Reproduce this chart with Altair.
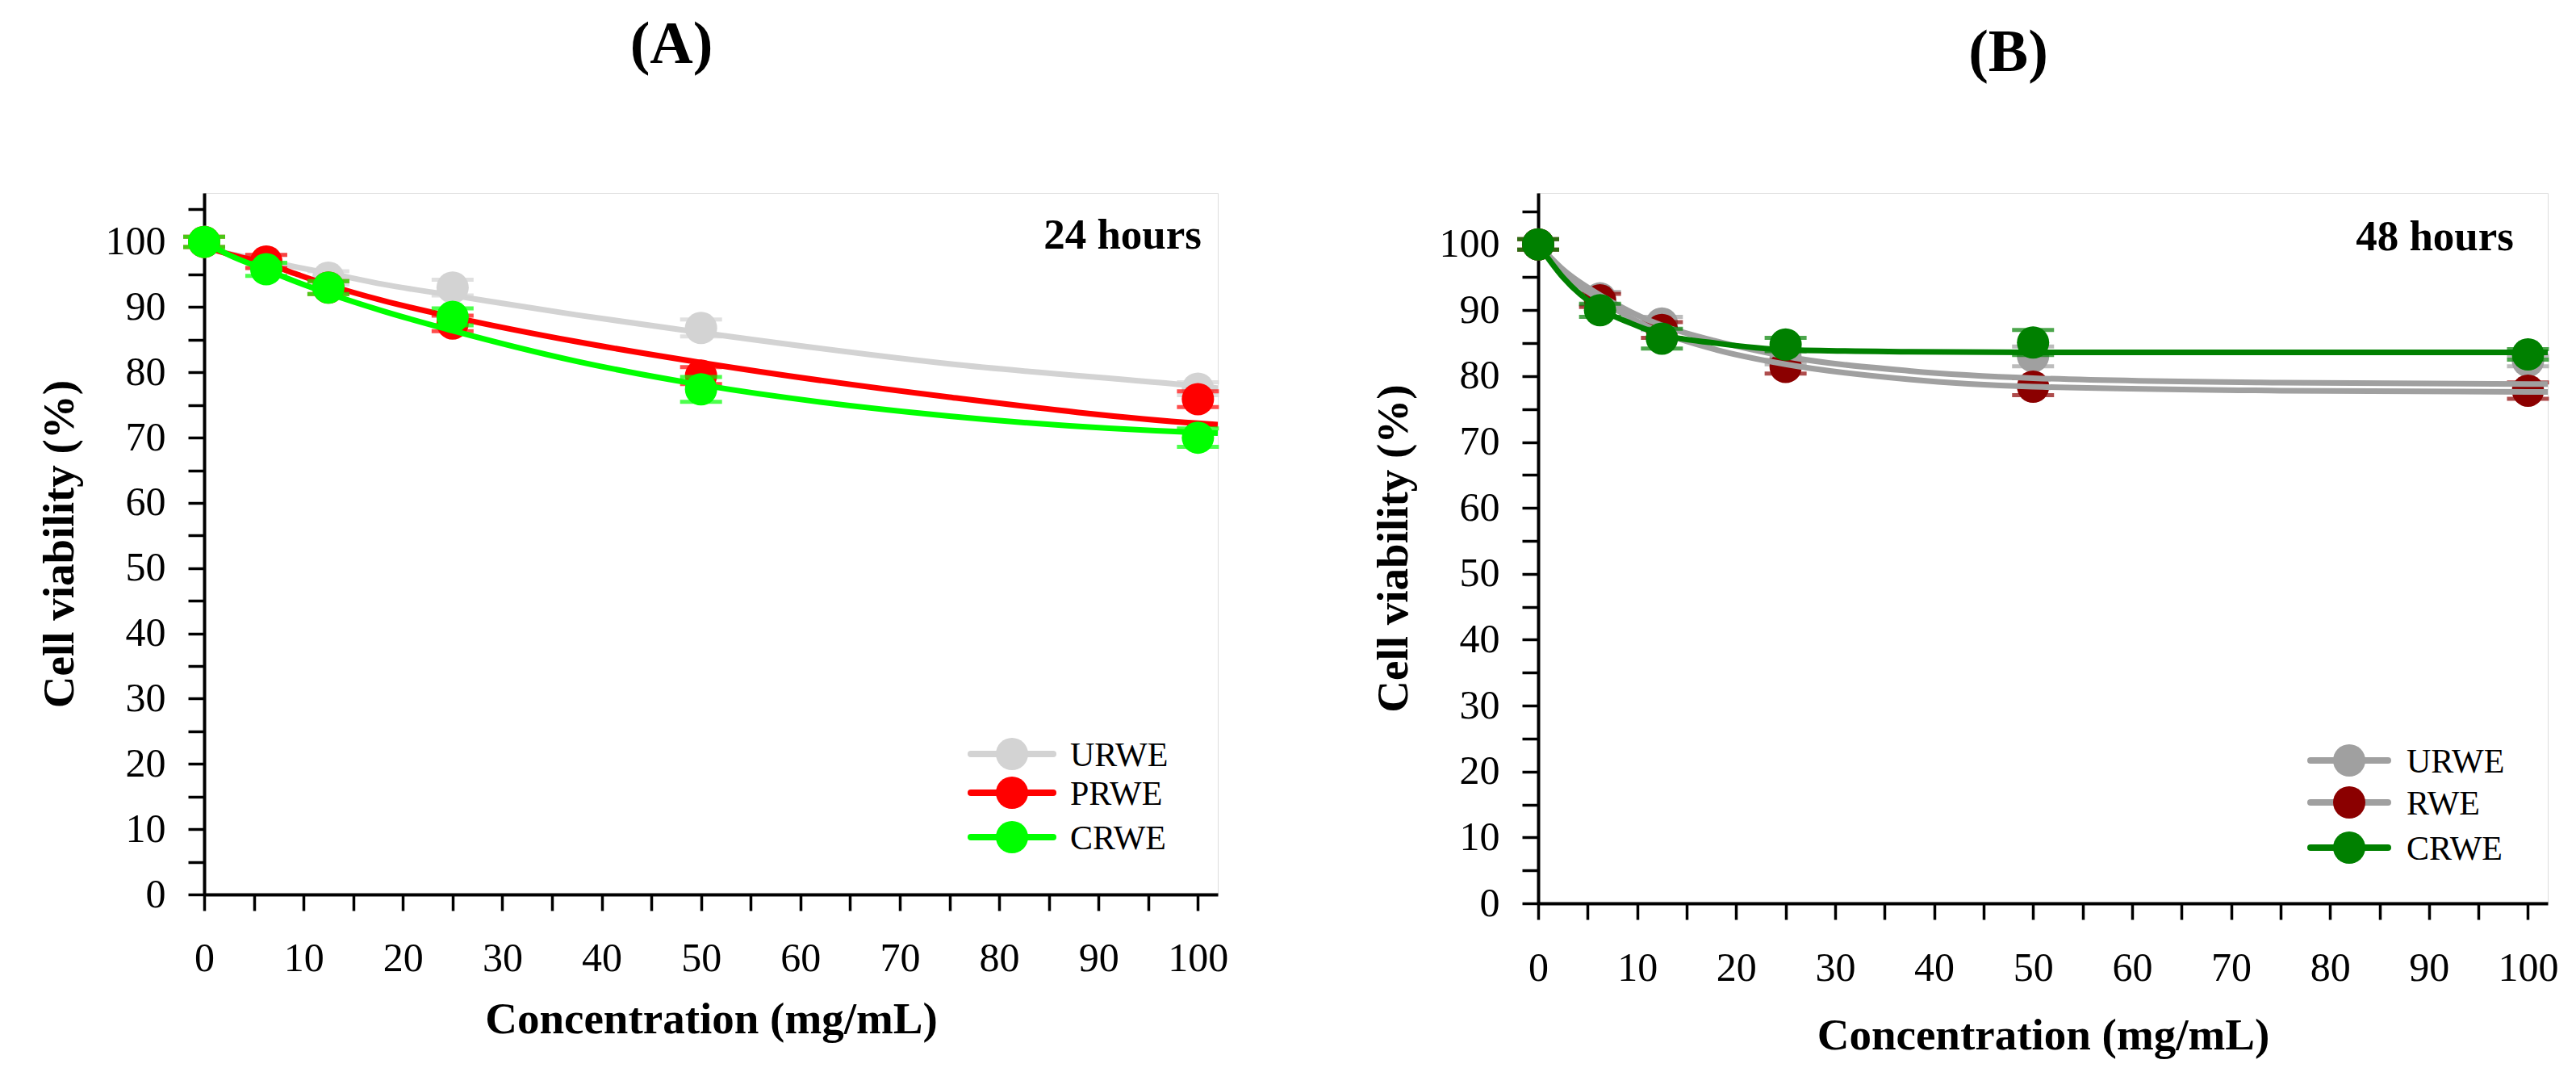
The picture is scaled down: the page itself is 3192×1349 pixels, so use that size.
import altair as alt
import pandas as pd

# ---------------- data ----------------
conc = [0, 6.25, 12.5, 25, 50, 100]

# Panel A (24 hours): mean cell viability (%) and SD
urwe_24 = [100.0, 97.0, 94.5, 93.0, 86.8, 77.5]
urwe_24_sd = [0.8, 1.0, 1.0, 1.2, 1.3, 1.0]
prwe_24 = [100.0, 97.0, 93.0, 87.5, 79.5, 75.9]
prwe_24_sd = [0.8, 1.0, 1.0, 1.2, 1.3, 1.2]
crwe_24 = [100.0, 95.8, 93.0, 88.5, 77.4, 70.0]
crwe_24_sd = [0.8, 1.0, 1.0, 1.3, 1.9, 1.4]

# Panel B (48 hours)
urwe_48 = [100.0, 91.8, 88.0, 82.8, 83.0, 82.3]
urwe_48_sd = [0.8, 1.0, 1.0, 1.0, 1.5, 0.8]
rwe_48 = [100.0, 91.5, 87.0, 81.4, 78.4, 77.8]
rwe_48_sd = [0.8, 1.0, 1.2, 1.0, 1.3, 1.25]
crwe_48 = [100.0, 90.0, 85.7, 84.8, 85.1, 83.3]
crwe_48_sd = [0.8, 1.0, 1.5, 1.0, 1.9, 0.8]

# fitted curves
curve_x = [0, 2.5, 6.25, 9.4, 12.5, 18, 25, 37.5, 50, 75, 100, 102]
urwe_24_fit = [99.0, 98.2, 97.1, 96.1, 95.2, 93.5, 91.8, 88.8, 86.1, 81.3, 77.9, 77.6]
prwe_24_fit = [99.3, 98.1, 96.7, 95.0, 93.4, 91.0, 88.5, 84.7, 81.5, 76.2, 72.2, 72.0]
crwe_24_fit = [100.0, 98.0, 95.7, 93.8, 92.1, 89.4, 86.4, 81.7, 78.1, 73.3, 70.8, 70.7]
urwe_48_fit = [100.0, 96.2, 92.3, 89.7, 87.7, 85.3, 83.0, 80.8, 79.7, 79.0, 78.8, 78.8]
rwe_48_fit = [100.0, 95.7, 91.6, 88.8, 86.6, 84.0, 81.8, 79.5, 78.4, 77.8, 77.6, 77.6]
crwe_48_fit = [100.0, 95.0, 90.2, 88.0, 86.3, 85.0, 84.0, 83.7, 83.6, 83.6, 83.6, 83.6]

names_24 = ["URWE", "PRWE", "CRWE"]
names_48 = ["URWE", "RWE", "CRWE"]

# ---------------- styling ----------------
FONT = "Liberation Serif"
x_ticks = list(range(0, 101, 5))
y_ticks = list(range(0, 106, 5))


def make_axes(x_label_pad, x_title_pad):
    x_axis = alt.Axis(
        values=x_ticks,
        labelExpr="datum.value % 10 === 0 ? datum.label : ''",
        title="Concentration (mg/mL)",
        titleFont=FONT, titleFontSize=55, titleFontWeight="bold", titleColor="black",
        titlePadding=x_title_pad,
        labelFont=FONT, labelFontSize=50, labelColor="black", labelPadding=x_label_pad,
        labelFlush=False, labelOverlap=False,
        tickSize=20, tickWidth=3.5, tickColor="black",
        domainColor="black", domainWidth=4, grid=False,
    )
    y_axis = alt.Axis(
        values=y_ticks,
        labelExpr="datum.value % 10 === 0 && datum.value <= 100 ? datum.label : ''",
        title="Cell viability (%)",
        titleFont=FONT, titleFontSize=55, titleFontWeight="bold", titleColor="black",
        titlePadding=28,
        labelFont=FONT, labelFontSize=50, labelColor="black", labelPadding=28,
        labelFlush=False, labelOverlap=False,
        tickSize=20, tickWidth=3.5, tickColor="black",
        domainColor="black", domainWidth=4, grid=False,
    )
    return x_axis, y_axis


def panel(title, dx_title, title_offset, tag, names, means, sds, fits,
          point_colors, line_colors, width, height, ytop, lay, order,
          x_label_pad, x_title_pad):
    x_axis, y_axis = make_axes(x_label_pad, x_title_pad)
    xs = alt.Scale(domain=[0, 102], nice=False, zero=False)
    ys = alt.Scale(domain=[0, ytop], nice=False, zero=False)

    point_layers = {}
    curve_layers = {}
    for i, name in enumerate(names):
        df = pd.DataFrame({"conc": conc, "v": means[i], "sd": sds[i]})
        df["lo"] = df["v"] - df["sd"]
        df["hi"] = df["v"] + df["sd"]
        base = alt.Chart(df)
        col = point_colors[i]
        rule = base.mark_rule(strokeWidth=5, color=col).encode(
            x=alt.X("conc:Q", scale=xs, axis=x_axis),
            y=alt.Y("lo:Q", scale=ys, axis=y_axis),
            y2="hi:Q",
        )
        cap_lo = base.mark_tick(orient="horizontal", size=52, thickness=5, color=col).encode(
            x=alt.X("conc:Q", scale=xs, axis=x_axis),
            y=alt.Y("lo:Q", scale=ys, axis=y_axis),
        )
        cap_hi = base.mark_tick(orient="horizontal", size=52, thickness=5, color=col).encode(
            x=alt.X("conc:Q", scale=xs, axis=x_axis),
            y=alt.Y("hi:Q", scale=ys, axis=y_axis),
        )
        pts = base.mark_circle(size=1600, opacity=1, color=col).encode(
            x=alt.X("conc:Q", scale=xs, axis=x_axis),
            y=alt.Y("v:Q", scale=ys, axis=y_axis),
        )
        point_layers[name] = [rule, cap_lo, cap_hi, pts]

        cdf = pd.DataFrame({"cx": curve_x, "cy": fits[i]})
        line = alt.Chart(cdf).mark_line(
            strokeWidth=7, color=line_colors[i], interpolate="monotone", clip=True
        ).encode(
            x=alt.X("cx:Q", scale=xs, axis=x_axis),
            y=alt.Y("cy:Q", scale=ys, axis=y_axis),
        )
        curve_layers[name] = line

    layers = []
    for kind, name in order:
        if kind == "c":
            layers.append(curve_layers[name])
        else:
            layers.extend(point_layers[name])

    # time annotation
    tag_df = pd.DataFrame({"t": [tag]})
    layers.append(
        alt.Chart(tag_df).mark_text(
            font=FONT, fontSize=53, fontWeight="bold", align="right", baseline="alphabetic",
            color="black",
        ).encode(text="t:N", x=alt.value(lay["tag_x"]), y=alt.value(lay["tag_y"]))
    )

    # legend drawn inside the plot
    for i, name in enumerate(names):
        ly = lay["rows"][i]
        ldf = pd.DataFrame({"n": [name]})
        layers.append(
            alt.Chart(ldf).mark_rule(strokeWidth=8, strokeCap="round", color=line_colors[i]).encode(
                x=alt.value(lay["x0"]), x2=alt.value(lay["x1"]),
                y=alt.value(ly), y2=alt.value(ly),
            )
        )
        layers.append(
            alt.Chart(ldf).mark_circle(size=1600, opacity=1, color=point_colors[i]).encode(
                x=alt.value((lay["x0"] + lay["x1"]) / 2), y=alt.value(ly),
            )
        )
        layers.append(
            alt.Chart(ldf).mark_text(
                font=FONT, fontSize=42, align="left", baseline="middle", color="black"
            ).encode(text="n:N", x=alt.value(lay["tx"]), y=alt.value(ly + 2))
        )

    return alt.layer(*layers).properties(
        width=width,
        height=height,
        title=alt.TitleParams(
            title, font=FONT, fontSize=74, fontWeight="bold", color="black",
            anchor="middle", dx=dx_title, offset=title_offset,
        ),
    )


chart_a = panel(
    "(A)", -49, 140, "24 hours", names_24,
    [urwe_24, prwe_24, crwe_24], [urwe_24_sd, prwe_24_sd, crwe_24_sd],
    [urwe_24_fit, prwe_24_fit, crwe_24_fit],
    ["#d3d3d3", "#ff0000", "#00ff00"], ["#d3d3d3", "#ff0000", "#00ff00"],
    1256, 869, 107.5,
    {"rows": [695, 743, 798], "x0": 950, "x1": 1052, "tx": 1073,
     "tag_x": 1236, "tag_y": 69},
    [("c", "URWE"), ("p", "URWE"), ("c", "PRWE"), ("p", "PRWE"), ("c", "CRWE"), ("p", "CRWE")],
    34, 24,
)

chart_b = panel(
    "(B)", -43, 133, "48 hours", names_48,
    [urwe_48, rwe_48, crwe_48], [urwe_48_sd, rwe_48_sd, crwe_48_sd],
    [urwe_48_fit, rwe_48_fit, crwe_48_fit],
    ["#a0a0a0", "#8b0000", "#008000"], ["#a0a0a0", "#a0a0a0", "#008000"],
    1251, 880, 107.8,
    {"rows": [703, 755, 811], "x0": 957, "x1": 1053, "tx": 1076,
     "tag_x": 1209, "tag_y": 71},
    [("p", "URWE"), ("p", "RWE"), ("c", "URWE"), ("c", "RWE"), ("c", "CRWE"), ("p", "CRWE")],
    35, 32,
)

chart = alt.hconcat(chart_a, chart_b, spacing=175).properties(
    padding={"left": 37, "top": 10, "right": 5, "bottom": 5}
).configure_view(
    stroke="black", strokeWidth=4
).configure(background="white")

chart.save("out.html", embed_options={"renderer": "svg", "actions": False})
